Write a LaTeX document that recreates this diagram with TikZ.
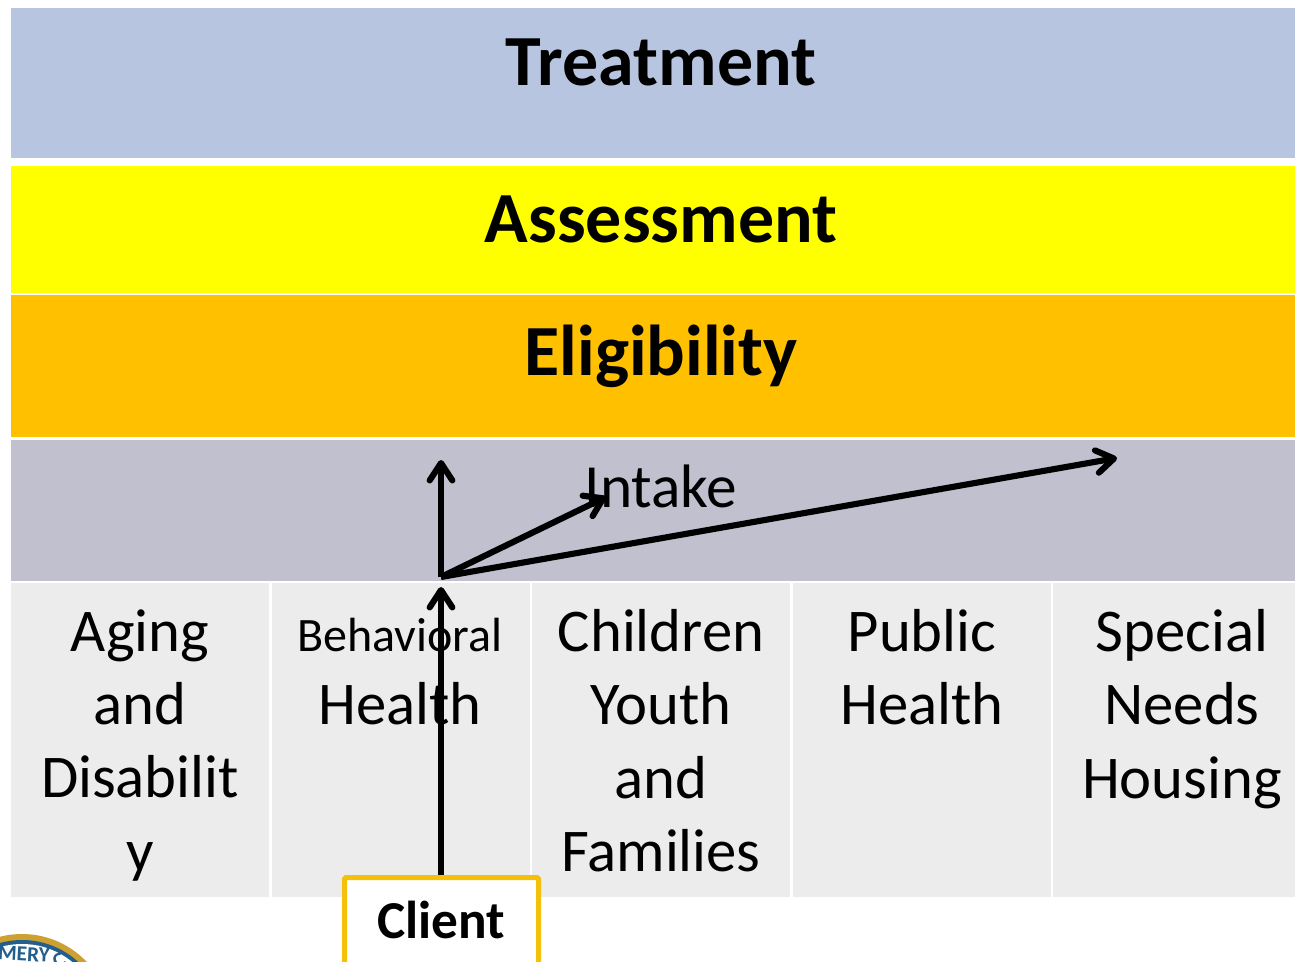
\documentclass[tikz,border=0pt]{standalone}
\usepackage{fontspec}
\setmainfont{Carlito}
\usetikzlibrary{arrows.meta}
\definecolor{bandblue}{RGB}{184,197,225}
\definecolor{bandyellow}{RGB}{255,255,0}
\definecolor{bandorange}{RGB}{255,192,0}
\definecolor{bandgrey}{RGB}{192,192,207}
\definecolor{cellgrey}{RGB}{236,236,236}
\definecolor{clientgold}{RGB}{245,192,10}
\definecolor{sealgold}{RGB}{205,160,50}
\definecolor{sealblue}{RGB}{35,95,140}
\tikzset{
  x=0.75pt,y=-0.75pt,
  band/.style={minimum width=1284*0.75pt,inner sep=0pt,anchor=north west,outer sep=0pt},
  cell/.style={fill=cellgrey,minimum width=258*0.75pt,minimum height=314*0.75pt,inner sep=0pt,anchor=north west,outer sep=0pt},
  celltext/.style={anchor=north,align=center,font=\fontsize{45.5}{55}\selectfont,inner sep=0pt},
  headtext/.style={anchor=center,font=\fontsize{54}{64}\selectfont\bfseries,inner sep=0pt},
  flow/.style={draw=black,line width=4.6pt,-{Straight Barb[length=13pt,width=17pt,line width=4.6pt,round]}}
}
\begin{document}
\begin{tikzpicture}
\useasboundingbox (0,0) rectangle (1295,962);
\clip (0,0) rectangle (1295,962);
\fill[white] (0,0) rectangle (1295,962);
\node[band,fill=bandblue,minimum height=150*0.75pt] (treat) at (11,8) {};
\node[band,fill=bandyellow,minimum height=127*0.75pt] (assess) at (11,166) {};
\node[band,fill=bandorange,minimum height=142*0.75pt] (elig) at (11,295) {};
\node[band,fill=bandgrey,minimum height=141*0.75pt] (intake) at (11,440) {};
\node[headtext,anchor=base] (treatT) at (661,86) {Treatment};
\node[headtext,anchor=base] (assessT) at (661,243) {Assessment};
\node[headtext,anchor=base] (eligT) at (661,375) {Eligibility};
\node[anchor=base,font=\fontsize{46}{54}\selectfont,inner sep=0pt] (intakeT) at (661,507) {Intake};
\node[cell] (c1) at (11,583) {};
\node[cell] (c2) at (272,583) {};
\node[cell] (c3) at (532,583) {};
\node[cell] (c4) at (793,583) {};
\node[cell,minimum width=242*0.75pt] (c5) at (1053,583) {};
\node[celltext] (t1) at (140,609) {Aging\\and\\Disabilit\\y};
\node[celltext] (t2) at (400,618) {{\fontsize{36}{55}\selectfont Behavioral}\\Health};
\node[celltext] (t3) at (661,609) {Children\\Youth\\and\\Families};
\node[celltext] (t4) at (922,609) {Public\\Health};
\node[celltext] (t5) at (1182,609) {Special\\Needs\\Housing};
% seal
\fill[sealgold] (22,1023) circle (89);
\fill[sealblue] (22,1023) circle (83);
\fill[white] (22,1023) circle (79);
\node[font=\fontsize{16}{16}\selectfont\bfseries,text=sealblue,rotate=-3,inner sep=0pt] (sealA) at (24,954) {MERY};
\node[font=\fontsize{16}{16}\selectfont\bfseries,text=sealblue,rotate=30,inner sep=0pt] (sealB) at (59,961) {C};
\node[draw=clientgold,fill=white,line width=3.8pt,rounded corners=1pt,minimum width=194*0.75pt,minimum height=110*0.75pt,inner sep=0pt,anchor=north west] (client) at (342,875) {};
\node[font=\fontsize{40}{48}\selectfont\bfseries,inner sep=0pt] (clientT) at (441,920) {Client};
\coordinate (hub) at (441,577);
\coordinate (up) at (441,460);
\coordinate (mid) at (606,497);
\coordinate (far) at (1117,458);
\coordinate (in) at (441,587);
\draw[flow] (client.north -| hub) -- (in);
\draw[flow] (hub) -- (up);
\draw[flow] (hub) -- (mid);
\draw[flow] (hub) -- (far);
\end{tikzpicture}
\end{document}
